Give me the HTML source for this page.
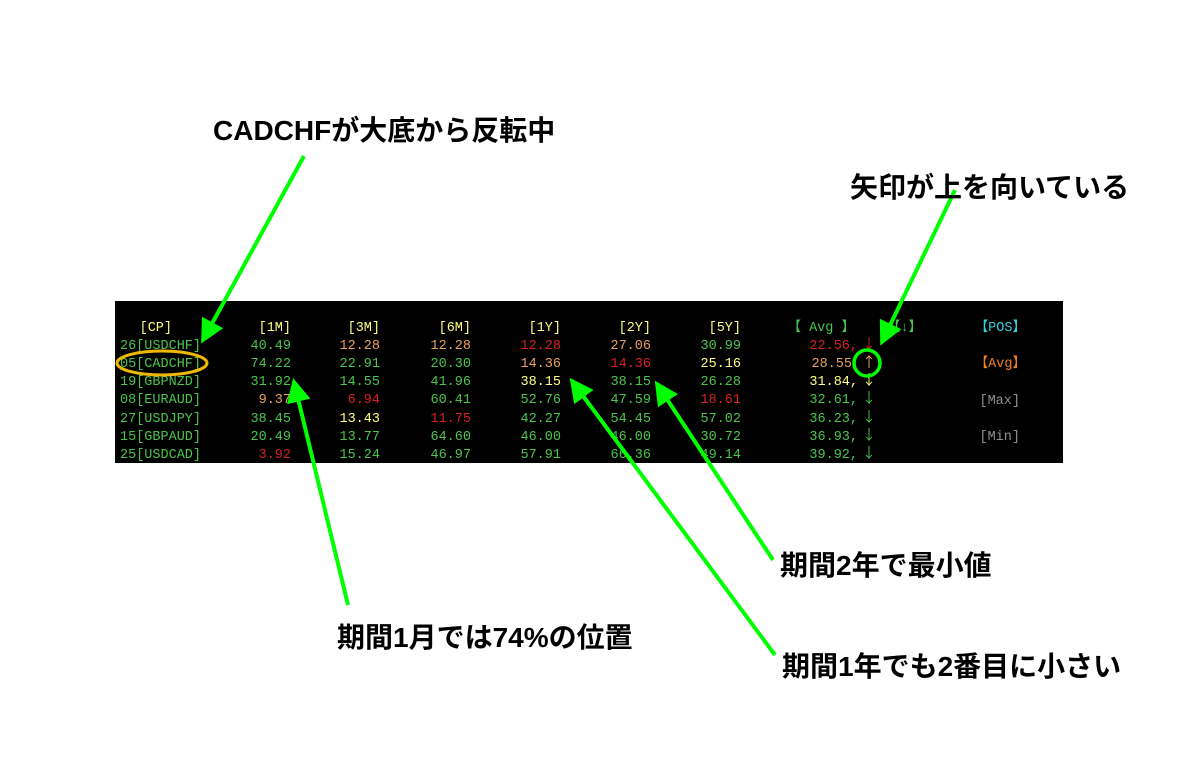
<!DOCTYPE html>
<html><head><meta charset="utf-8"><style>
html,body{margin:0;padding:0;background:#fff;width:1200px;height:760px;overflow:hidden}
.a{font-family:"Liberation Sans","Noto Sans CJK JP",sans-serif;font-weight:bold;font-size:28px;fill:#000}
.m{font-family:"Liberation Mono","Noto Sans CJK JP",monospace;font-size:13.5px}
.ar{font-family:"Noto Sans CJK JP",sans-serif;font-size:14px}
.G{fill:#4cc44c}.O{fill:#e8a060}.R{fill:#d82020}.Y{fill:#ffff80}.C{fill:#30d0e0}.A{fill:#f08020}.W{fill:#909090}
</style></head><body>
<svg width="1200" height="760" xmlns="http://www.w3.org/2000/svg">
<rect x="115" y="301" width="948" height="162" fill="#000"/>
<g class="m" text-anchor="end">
<text x="172" y="331" class="Y">[CP]</text>
<text x="291" y="331" class="Y">[1M]</text>
<text x="380" y="331" class="Y">[3M]</text>
<text x="471" y="331" class="Y">[6M]</text>
<text x="561" y="331" class="Y">[1Y]</text>
<text x="651" y="331" class="Y">[2Y]</text>
<text x="741" y="331" class="Y">[5Y]</text>
<text x="855" y="331" class="G">【 Avg 】</text>
<text x="922" y="331" class="G">【↓】</text>
<text x="1026" y="331" class="C">【POS】</text>
<text x="1026" y="367" class="A">【Avg】</text>
<text x="1020" y="404" class="W">[Max]</text>
<text x="1020" y="440" class="W">[Min]</text>
</g>
<g class="m" text-anchor="start">
<text x="120" y="349" class="G">26[USDCHF]</text>
<text x="120" y="367" class="G">05[CADCHF]</text>
<text x="120" y="385" class="G">19[GBPNZD]</text>
<text x="120" y="403" class="G">08[EURAUD]</text>
<text x="120" y="422" class="G">27[USDJPY]</text>
<text x="120" y="440" class="G">15[GBPAUD]</text>
<text x="120" y="458" class="G">25[USDCAD]</text>
</g>
<g class="m" text-anchor="end">
<text x="291" y="349" class="G">40.49</text><text x="380" y="349" class="O">12.28</text><text x="471" y="349" class="O">12.28</text><text x="561" y="349" class="R">12.28</text><text x="651" y="349" class="O">27.06</text><text x="741" y="349" class="G">30.99</text><text x="858" y="349" class="R">22.56,</text>
<text x="291" y="367" class="G">74.22</text><text x="380" y="367" class="G">22.91</text><text x="471" y="367" class="G">20.30</text><text x="561" y="367" class="O">14.36</text><text x="651" y="367" class="R">14.36</text><text x="741" y="367" class="Y">25.16</text><text x="852" y="367" class="O">28.55</text>
<text x="291" y="385" class="G">31.92</text><text x="380" y="385" class="G">14.55</text><text x="471" y="385" class="G">41.96</text><text x="561" y="385" class="Y">38.15</text><text x="651" y="385" class="G">38.15</text><text x="741" y="385" class="G">26.28</text><text x="858" y="385" class="Y">31.84,</text>
<text x="291" y="403" class="O">9.37</text><text x="380" y="403" class="R">6.94</text><text x="471" y="403" class="G">60.41</text><text x="561" y="403" class="G">52.76</text><text x="651" y="403" class="G">47.59</text><text x="741" y="403" class="R">18.61</text><text x="858" y="403" class="G">32.61,</text>
<text x="291" y="422" class="G">38.45</text><text x="380" y="422" class="Y">13.43</text><text x="471" y="422" class="R">11.75</text><text x="561" y="422" class="G">42.27</text><text x="651" y="422" class="G">54.45</text><text x="741" y="422" class="G">57.02</text><text x="858" y="422" class="G">36.23,</text>
<text x="291" y="440" class="G">20.49</text><text x="380" y="440" class="G">13.77</text><text x="471" y="440" class="G">64.60</text><text x="561" y="440" class="G">46.00</text><text x="651" y="440" class="G">46.00</text><text x="741" y="440" class="G">30.72</text><text x="858" y="440" class="G">36.93,</text>
<text x="291" y="458" class="R">3.92</text><text x="380" y="458" class="G">15.24</text><text x="471" y="458" class="G">46.97</text><text x="561" y="458" class="G">57.91</text><text x="651" y="458" class="G">66.36</text><text x="741" y="458" class="G">49.14</text><text x="858" y="458" class="G">39.92,</text>
</g>
<g class="ar">
<text x="862" y="349" class="R">↓</text><text x="862" y="367" class="O">↑</text><text x="862" y="385" class="Y">↓</text><text x="862" y="403" class="G">↓</text><text x="862" y="422" class="G">↓</text><text x="862" y="440" class="G">↓</text><text x="862" y="458" class="G">↓</text>
</g>
<ellipse cx="162" cy="363" rx="45" ry="12" fill="none" stroke="#f0b800" stroke-width="3"/>
<circle cx="867" cy="363" r="13" fill="none" stroke="#00ff00" stroke-width="3.5"/>
<defs><marker id="h" markerWidth="6" markerHeight="6" refX="5" refY="3" orient="auto" markerUnits="strokeWidth"><path d="M0,0L6,3L0,6z" fill="#00ff00"/></marker></defs>
<g stroke="#00ff00" stroke-width="4" marker-end="url(#h)">
<line x1="304" y1="156" x2="203" y2="340"/>
<line x1="348" y1="605" x2="294" y2="382"/>
<line x1="775" y1="655" x2="572" y2="381"/>
<line x1="773" y1="560" x2="657" y2="384"/>
<line x1="955" y1="190" x2="882" y2="342"/>
</g>
<text x="213" y="140" class="a">CADCHFが大底から反転中</text>
<text x="850" y="197" class="a">矢印が上を向いている</text>
<text x="780" y="575" class="a">期間2年で最小値</text>
<text x="337" y="647" class="a">期間1月では74%の位置</text>
<text x="782" y="676" class="a">期間1年でも2番目に小さい</text>
</svg>
</body></html>
